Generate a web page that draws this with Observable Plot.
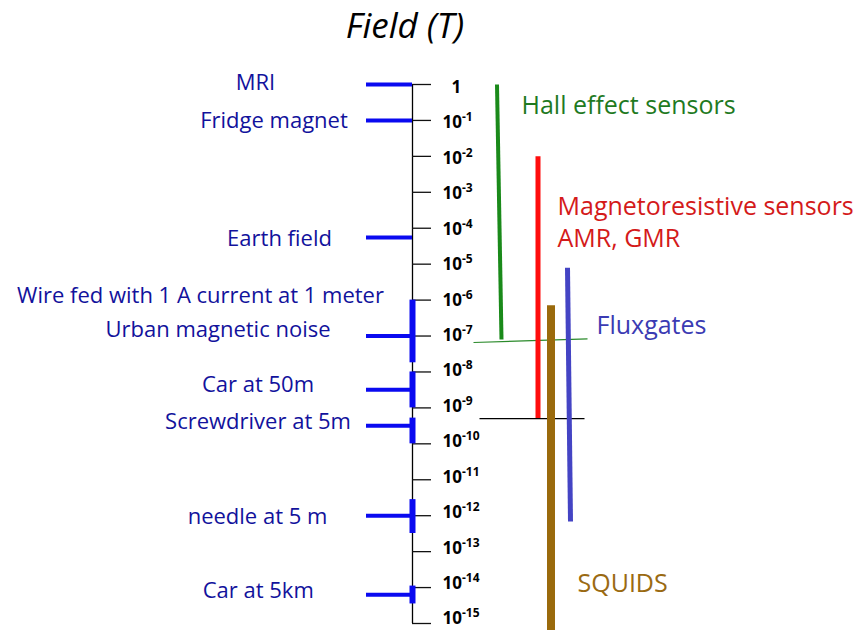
<!DOCTYPE html>
<html>
<head>
<meta charset="utf-8">
<script src="https://cdn.jsdelivr.net/npm/d3@7"></script>
<script src="https://cdn.jsdelivr.net/npm/@observablehq/plot@0.6"></script>
<style>
  html, body { margin: 0; padding: 0; background: #ffffff; }
  body { width: 858px; height: 630px; overflow: hidden; font-family: "Open Sans", sans-serif; }
  #title { position: relative; width: 858px; height: 60px; }
  #title span { position: absolute; left: 0; width: 810px; text-align: center; top: 1px;
                font-style: italic; font-size: 35px; color: #000; font-family: "Open Sans", sans-serif; }
  #chart svg { display: block; }
</style>
</head>
<body>
<div id="title"><span>Field (T)</span></div>
<div id="chart"></div>
<script>
// ---------------- DATA ----------------
// axis ticks (Tesla)
const tickValues = [1, 1e-1, 1e-2, 1e-3, 1e-4, 1e-5, 1e-6, 1e-7, 1e-8, 1e-9, 1e-10, 1e-11, 1e-12, 1e-13, 1e-14, 1e-15];
const tickLabels = ["1", "10-1", "10-2", "10-3", "10-4", "10-5", "10-6", "10-7", "10-8", "10-9", "10-10", "10-11", "10-12", "10-13", "10-14", "10-15"];

// field sources (left side)
const sourceNames = ["MRI", "Fridge magnet", "Earth field", "Wire fed with 1 A current at 1 meter",
  "Urban magnetic noise", "Car at 50m", "Screwdriver at 5m", "needle at 5 m", "Car at 5km"];
const sourceField = [1, 1e-1, 5.5e-5, 1e-6, 1e-7, 3.2e-9, 3.2e-10, 1e-12, 6.3e-15];
const sourceHasMarker = [true, true, true, false, true, true, true, true, true];

// field spread bars on the axis
const spreadHigh = [1e-6, 1e-8, 5.2e-10, 2.8e-12, 1.1e-14];
const spreadLow = [1.8e-8, 1e-9, 1e-10, 3.2e-13, 3.5e-15];

// sensors (right side)
const sensorNames = ["Hall effect sensors", "Magnetoresistive sensors", "SQUIDS", "Fluxgates"];
const sensorHigh = [1, 1e-2, 7.2e-7, 7.9e-6];
const sensorLow = [8e-8, 5.2e-10, 5e-16, 6.9e-13];

// reference levels (thin lines)
const levelFieldLeft = [6.6e-8, 5e-10];
const levelFieldRight = [8.3e-8, 5e-10];

// ---------------- LAYOUT ----------------
const W = 858, H = 570;
const axisX = 412, tickEnd = 431, tickLabelX = 442, markerStart = 366;
const sourceLabelX = [255, 273.5, 279, 200, 217.5, 257.5, 257.5, 257, 257.7];
const sourceLabelDy = [-1.5, 0.5, 1, -4.6, -6, -5, -4, 1, -4];
const sensorXTop = [496.5, 537.5, 550.5, 567];
const sensorXBottom = [501, 537.5, 550.5, 570];
const sensorWidth = [4, 5, 8, 5];
const levelX1 = [473, 479], levelX2 = [587, 584];
const sensorLabel = [
  {text: "Hall effect sensors", x: 521, f: 10 ** -0.6, key: "Hall effect sensors"},
  {text: "Magnetoresistive sensors", x: 557, f: 10 ** -3.4, key: "Magnetoresistive sensors"},
  {text: "AMR, GMR", x: 557, f: 10 ** -4.3, key: "Magnetoresistive sensors"},
  {text: "Fluxgates", x: 596, f: 10 ** -6.72, key: "Fluxgates"},
  {text: "SQUIDS", x: 577, f: 10 ** -13.9, key: "SQUIDS"}
];

const sources = sourceNames.map((name, i) => ({name, field: sourceField[i], marker: sourceHasMarker[i], lx: sourceLabelX[i], dy: sourceLabelDy[i]}));
const spreads = spreadHigh.map((hi, i) => ({hi, lo: spreadLow[i]}));
const sensors = sensorNames.map((name, i) => ({name, hi: sensorHigh[i], lo: sensorLow[i], x1: sensorXTop[i], x2: sensorXBottom[i], w: sensorWidth[i]}));
const ticks = tickValues.map((v, i) => ({v, label: tickLabels[i]}));
const levels = levelFieldLeft.map((f, i) => ({f1: f, f2: levelFieldRight[i], x1: levelX1[i], x2: levelX2[i], kind: i === 0 ? "hall" : "mr"}));

const sensorColors = {
  bar: ["#1a8a1a", "#ff0d0d", "#9a6a0c", "#4444c4"],
  text: ["#1f7a1f", "#d41a1a", "#9a6a12", "#3b3bb3"]
};
const sourceText = "#12129c", sourceMark = "#0a0af0";
const FONT = "'Open Sans', sans-serif";

const chart = Plot.plot({
  width: W, height: H,
  marginTop: 0, marginRight: 0, marginBottom: 0, marginLeft: 0,
  style: {background: "#ffffff", fontFamily: FONT, overflow: "visible"},
  x: {type: "linear", domain: [0, W], range: [0, W], axis: null},
  y: {type: "log", domain: [1e-15, 1], range: [563, 24], axis: null},
  marks: [
    // axis line and ticks
    Plot.ruleX([axisX], {y1: 1, y2: 1e-15, stroke: "#000", strokeWidth: 1.3}),
    Plot.ruleY(ticks, {y: "v", x1: axisX, x2: tickEnd, stroke: "#111", strokeWidth: 1.3}),
    Plot.text(ticks, {x: tickLabelX, y: "v", text: "label", textAnchor: "start",
      fontSize: 17, fontWeight: "bold", fill: "#000"}),
    // thin reference lines
    Plot.link(levels, {x1: "x1", x2: "x2", y1: "f1", y2: "f2",
      stroke: d => d.kind === "hall" ? "#2a8a2a" : "#000", strokeWidth: 1.2}),
    // sensor bars
    Plot.link(sensors, {x1: "x1", x2: "x2", y1: "hi", y2: "lo",
      stroke: d => sensorColors.bar[sensorNames.indexOf(d.name)],
      strokeWidth: d => d.w, strokeLinecap: "butt"}),
    // sensor labels
    Plot.text(sensorLabel, {x: "x", y: "f", text: "text", textAnchor: "start", fontSize: 25, fontWeight: 500,
      fill: d => sensorColors.text[sensorNames.indexOf(d.key)]}),
    // spread bars on axis
    Plot.ruleX(spreads, {x: axisX, y1: "hi", y2: "lo", stroke: sourceMark, strokeWidth: 6}),
    // source markers
    Plot.ruleY(sources.filter(d => d.marker), {y: "field", x1: markerStart, x2: axisX, stroke: sourceMark, strokeWidth: 4}),
    // source labels (one mark per label so each keeps its own small vertical offset)
    ...sources.map(s => Plot.text([s], {x: "lx", y: "field", text: "name", textAnchor: "middle", dy: s.dy,
      fontSize: 22, fontWeight: 500, fill: sourceText}))
  ]
});

document.getElementById("chart").appendChild(chart);

// superscripts on tick labels + small per-label vertical nudges
const ns = "http://www.w3.org/2000/svg";
chart.querySelectorAll("text").forEach(t => {
  const s = t.textContent;
  const idx = tickLabels.indexOf(s);
  if (idx < 0) return;
  const shiftY = 3 - 0.5 * idx;
  const shiftX = s === "1" ? 9 : 0;
  t.setAttribute("transform", (t.getAttribute("transform") || "") + ` translate(${shiftX},${shiftY})`);
  const m = s.match(/^10(-\d+)$/);
  if (m) {
    t.textContent = "";
    const a = document.createElementNS(ns, "tspan"); a.textContent = "10";
    const b = document.createElementNS(ns, "tspan"); b.textContent = m[1];
    b.setAttribute("dy", "-7"); b.setAttribute("font-size", "12"); b.setAttribute("font-weight", "bold");
    t.appendChild(a); t.appendChild(b);
  }
});
</script>
</body>
</html>
